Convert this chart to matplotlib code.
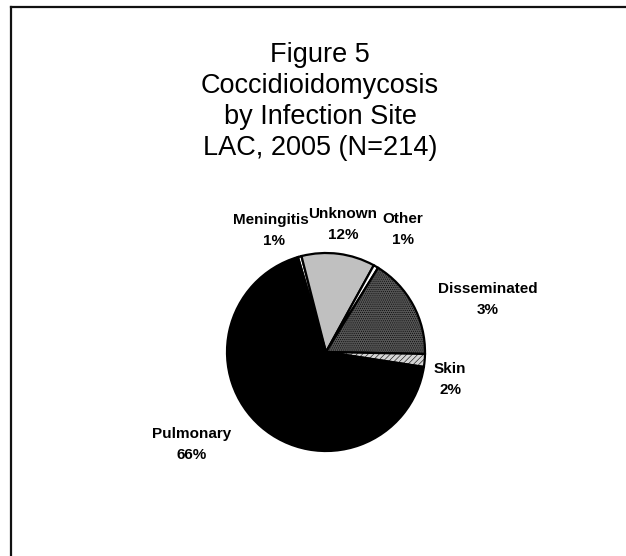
import matplotlib
matplotlib.use('Agg')
import matplotlib.pyplot as plt
from matplotlib.lines import Line2D

# slices, clockwise from the top-left (shares)
sites = ['Meningitis', 'Unknown', 'Other', 'Disseminated', 'Skin', 'Pulmonary']
shares = [0.6, 12.0, 0.8, 16.5, 2.1, 68.0]
# percentages as printed on the labels
label_pct = ['1%', '12%', '1%', '3%', '2%', '66%']

title_lines = ['Figure 5', 'Coccidioidomycosis', 'by Infection Site', 'LAC, 2005 (N=214)']

W, H = 626, 556
plt.rcParams['font.family'] = ['Liberation Sans', 'DejaVu Sans']
plt.rcParams['hatch.linewidth'] = 0.4

fig = plt.figure(figsize=(W / 100, H / 100), dpi=100)
ax = fig.add_axes([0, 0, 1, 1])

# frame (only top and left edges show in the crop)
ax.add_line(Line2D([11, W], [H - 7, H - 7], color='#111111', linewidth=1.6))
ax.add_line(Line2D([11, 11], [0, H - 7], color='#111111', linewidth=1.6))

# title
for i, line in enumerate(title_lines):
    ax.text(320, H - (62 + 31 * i), line, ha='center', va='baseline', fontsize=19.5)

colors = ['white', '#c0c0c0', 'white', '#555555', '#d4d4d4', 'black']
hatches = [None, None, None, '........', '//////', None]
wedges, _ = ax.pie(shares, colors=colors, startangle=106.5, counterclock=False,
                   center=(326, H - 352), radius=99, frame=True,
                   wedgeprops=dict(edgecolor='black', linewidth=1.6))
for w, h in zip(wedges, hatches):
    if h:
        w.set_hatch(h)
ax.set_xlim(0, W)
ax.set_ylim(0, H)
ax.set_aspect('equal')
ax.axis('off')

# label anchors: centre x, baseline y of the name line (pixels from top)
label_pos = [(271, 224), (343, 218), (403, 223), (488, 293), (450, 373), (192, 438)]
for name, pct, (x, y) in zip(sites, label_pct, label_pos):
    ax.text(x, H - y, name, ha='center', va='baseline', fontsize=11, fontweight='bold')
    ax.text(x + 3 if name == 'Meningitis' else x, H - y - 21, pct, ha='center',
            va='baseline', fontsize=11, fontweight='bold')

fig.savefig('out.png', dpi=100, facecolor='white')
